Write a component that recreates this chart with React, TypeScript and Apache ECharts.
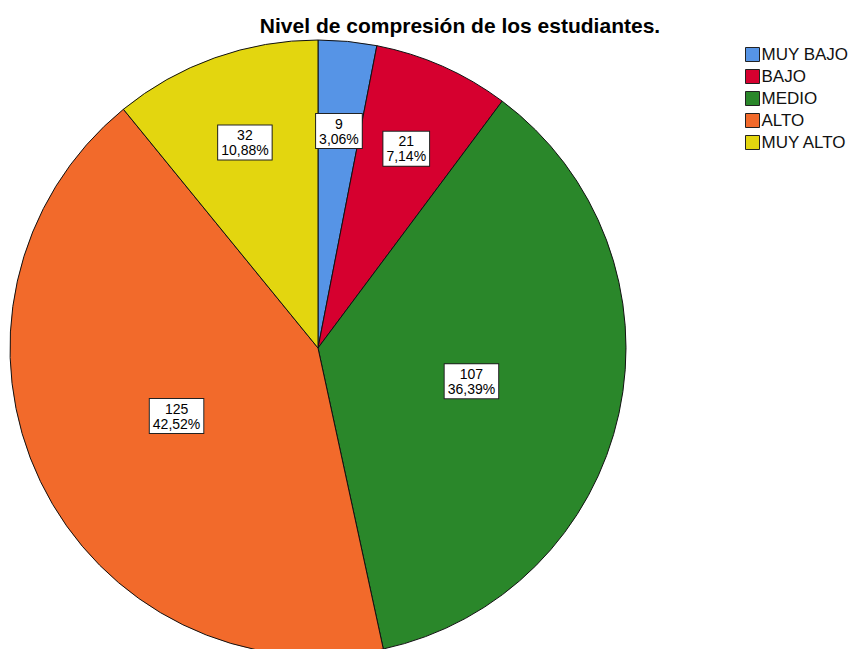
import React, { useEffect, useRef } from "react";
import * as echarts from "echarts";

const categories = ["MUY BAJO", "BAJO", "MEDIO", "ALTO", "MUY ALTO"];
const values = [9, 21, 107, 125, 32];
const colors = ["#5694e6", "#d6002f", "#2a872a", "#f26a2b", "#e3d60f"];
const titleText = "Nivel de compresión de los estudiantes.";

export default function App() {
  const ref = useRef<HTMLDivElement>(null);
  useEffect(() => {
    if (!ref.current) return;
    const chart = echarts.init(ref.current, undefined, { renderer: "svg" });
    const total = values.reduce((a, b) => a + b, 0);
    const fmt = (p: any) =>
      `${p.value}\n${((p.value / total) * 100).toFixed(2).replace(".", ",")}%`;
    const labelStyle = {
      position: "inside",
      formatter: fmt,
      color: "#000",
      fontFamily: "Liberation Sans, Arial, sans-serif",
      fontSize: 14,
      lineHeight: 15,
      backgroundColor: "#fff",
      borderColor: "#222",
      borderWidth: 1,
      padding: [3, 3, 1, 3],
      align: "center",
    };
    chart.setOption({
      animation: false,
      color: colors,
      title: {
        text: titleText,
        left: 455,
        top: 10,
        textAlign: "center",
        textStyle: {
          fontFamily: "Liberation Sans, Arial, sans-serif",
          fontSize: 21,
          fontWeight: "bold",
          color: "#000",
        },
      },
      legend: {
        orient: "vertical",
        left: 740,
        top: 41,
        itemWidth: 14,
        itemHeight: 14,
        itemGap: 5,
        icon: "rect",
        data: categories,
        itemStyle: { borderColor: "#222", borderWidth: 1 },
        textStyle: {
          fontFamily: "Liberation Sans, Arial, sans-serif",
          fontSize: 17,
          lineHeight: 17,
          color: "#111",
          padding: [0, 0, 0, -3],
        },
      },
      series: [
        {
          type: "pie",
          center: [318, 348],
          radius: [0, 308],
          startAngle: 90,
          clockwise: true,
          emphasis: { disabled: true },
          itemStyle: { borderColor: "#111", borderWidth: 1 },
          label: labelStyle,
          labelLine: { show: false },
          data: categories.map((name, i) => ({
            name,
            value: values[i],
            itemStyle: { color: colors[i] },
            label: { show: values[i] / total > 0.2 },
          })),
        },
        {
          type: "pie",
          center: [318, 348],
          radius: [110, 320],
          startAngle: 90,
          clockwise: true,
          silent: true,
          emphasis: { disabled: true },
          itemStyle: { color: "transparent", borderWidth: 0 },
          label: labelStyle,
          labelLine: { show: false },
          data: categories.map((name, i) => ({
            name,
            value: values[i],
            label: { show: values[i] / total <= 0.2 },
          })),
        },
      ],
    });
    return () => chart.dispose();
  }, []);
  return (
    <div
      ref={ref}
      style={{ position: "fixed", left: 0, top: 0, width: 852, height: 649, background: "#fff" }}
    />
  );
}
